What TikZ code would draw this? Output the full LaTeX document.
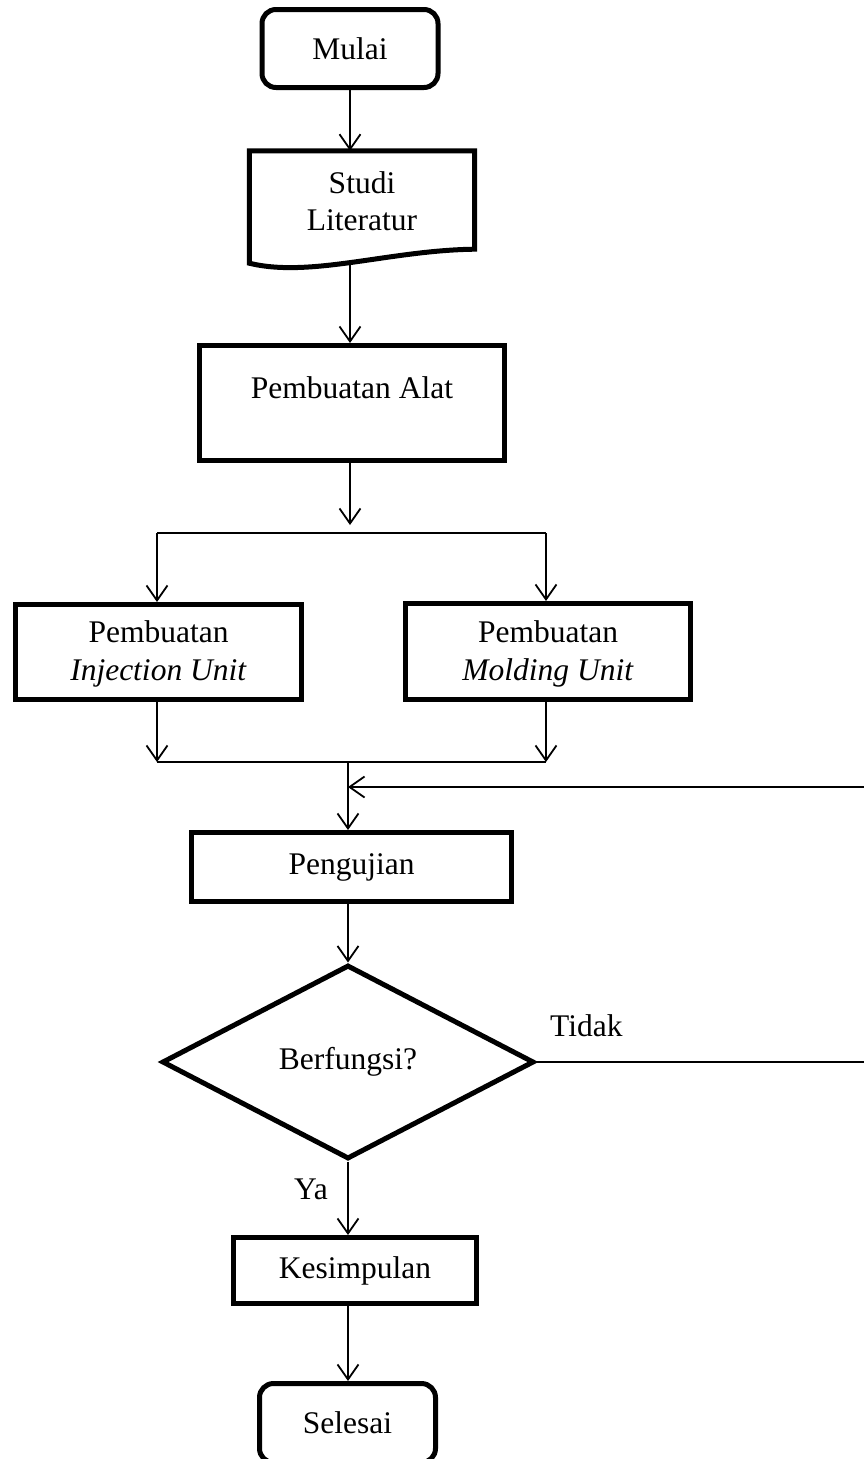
\documentclass[tikz,border=0pt]{standalone}
\usepackage{fontspec}
\setmainfont{Liberation Serif}
\usetikzlibrary{arrows.meta,shapes.geometric}
\begin{document}
\begin{tikzpicture}[x=1pt,y=-1pt,
  txt/.style={font=\fontsize{31.5}{37.5}\selectfont, align=center, inner sep=0pt},
  boxthick/.style={draw, line width=5pt, inner sep=0pt},
  proc/.style={boxthick, rectangle},
  term/.style={boxthick, rectangle, rounded corners=14pt},
  conn/.style={line width=1.8pt},
  arr/.style={conn, -{Straight Barb[length=15pt,width=21pt,line width=1.8pt]}}
]
\useasboundingbox (0,0) rectangle (863,1459);

% Mulai
\node[term, txt, minimum width=176, minimum height=78] (mulai) at (350,48.5) {Mulai};

% Studi Literatur (document shape)
\node[inner sep=0pt, minimum width=225, minimum height=112] (studi) at (362,207) {};
\draw[line width=5pt, line join=miter]
  ([yshift=14pt]studi.south east) -- (studi.north east) -- (studi.north west) -- (studi.south west)
  .. controls +(61,15) and +(-85,1) .. ([yshift=14pt]studi.south east) -- cycle;
\node[txt] (studitxt) at (362,201) {Studi\\Literatur};

% Pembuatan Alat
\node[proc, minimum width=305, minimum height=115] (alat) at (352,403) {};
\node[txt] (alattxt) at (352,388) {Pembuatan Alat};

% split
\coordinate (splitL) at (157,533);
\coordinate (splitR) at (546,533);
\coordinate (splitArr) at (350,525);

% Injection / Molding boxes
\node[proc, minimum width=286, minimum height=95] (inj) at (158.5,652) {};
\node[txt] (injtxt) at (158.5,654) {Pembuatan\\\textit{Injection Unit}};
\node[proc, minimum width=285, minimum height=96] (mold) at (548,651.5) {};
\node[txt] (moldtxt) at (548,654) {Pembuatan\\\textit{Molding Unit}};

% merge
\coordinate (mergeL) at (157,762);
\coordinate (mergeR) at (546,762);
\coordinate (mergeC) at (348,762);
\coordinate (fbEnd) at (348,787);
\coordinate (fbTop) at (880,787);

% Pengujian
\node[proc, txt, minimum width=320, minimum height=69] (uji) at (351.5,867) {Pengujian};

% Decision
\node[diamond, boxthick, aspect=1.9, minimum width=372, minimum height=194, txt] (dec) at (348,1062) {Berfungsi?};
\node[txt, anchor=west] (tidak) at (550,1026) {Tidak};
\node[txt] (ya) at (311,1189) {Ya};

% Kesimpulan
\node[proc, txt, minimum width=243, minimum height=66] (kes) at (355,1270.5) {Kesimpulan};

% Selesai
\node[term, txt, minimum width=176, minimum height=79] (sel) at (347.5,1423) {Selesai};

% connectors
\draw[arr] (mulai.south) -- (mulai.south |- studi.north);
\draw[arr] (mulai.south |- studi.south) -- (mulai.south |- alat.north);
\draw[arr] (mulai.south |- alat.south) -- (splitArr);
\draw[conn] (splitL) -- (splitR);
\draw[arr] (splitL) -- (splitL |- inj.north);
\draw[arr] (splitR) -- (splitR |- mold.north);
\draw[arr] (splitL |- inj.south) -- (mergeL);
\draw[arr] (splitR |- mold.south) -- (mergeR);
\draw[conn] (mergeL) -- (mergeR);
\draw[arr] (mergeC) -- (mergeC |- uji.north);
\draw[arr] (mergeC |- uji.south) -- (dec.north);
\draw[conn] (dec.east) -- (dec.east -| fbTop) -- (fbTop);
\draw[arr] (fbTop) -- (fbEnd);
\draw[arr] (dec.south) -- (dec.south |- kes.north);
\draw[arr] (dec.south |- kes.south) -- (dec.south |- sel.north);
\end{tikzpicture}
\end{document}
